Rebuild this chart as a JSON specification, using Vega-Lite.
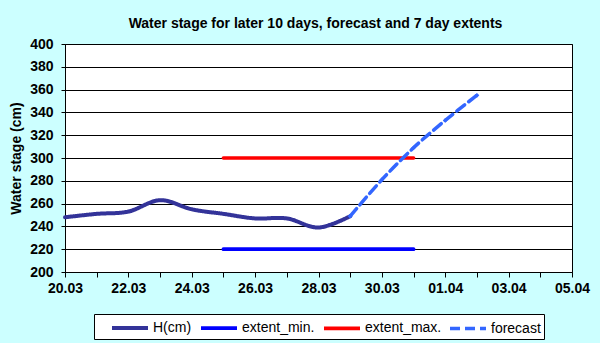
{
  "$schema": "https://vega.github.io/schema/vega-lite/v6.json",
  "autosize": "none",
  "width": 507,
  "height": 228,
  "padding": {"left": 65, "top": 44, "right": 28, "bottom": 71},
  "background": "#ccffff",
  "title": {
    "text": "Water stage for later 10 days, forecast and 7 day extents",
    "font": "Liberation Sans",
    "fontSize": 14,
    "fontWeight": "bold",
    "color": "#000000",
    "offset": 6,
    "dx": -3
  },
  "config": {
    "view": {"stroke": "#000000", "strokeWidth": 1, "fill": "#ffffff"},
    "font": "Liberation Sans"
  },
  "data": {
    "values": [
      {"date": "2011-03-20", "value": 248, "series": "H(cm)"},
      {"date": "2011-03-21", "value": 251, "series": "H(cm)"},
      {"date": "2011-03-22", "value": 253, "series": "H(cm)"},
      {"date": "2011-03-23", "value": 263, "series": "H(cm)"},
      {"date": "2011-03-24", "value": 255, "series": "H(cm)"},
      {"date": "2011-03-25", "value": 251, "series": "H(cm)"},
      {"date": "2011-03-26", "value": 247, "series": "H(cm)"},
      {"date": "2011-03-27", "value": 247, "series": "H(cm)"},
      {"date": "2011-03-28", "value": 239, "series": "H(cm)"},
      {"date": "2011-03-29", "value": 249, "series": "H(cm)"},
      {"date": "2011-03-25", "value": 220, "series": "extent_min."},
      {"date": "2011-03-31", "value": 220, "series": "extent_min."},
      {"date": "2011-03-25", "value": 300, "series": "extent_max."},
      {"date": "2011-03-31", "value": 300, "series": "extent_max."},
      {"date": "2011-03-29", "value": 249, "series": "forecast"},
      {"date": "2011-03-30", "value": 281, "series": "forecast"},
      {"date": "2011-03-31", "value": 309, "series": "forecast"},
      {"date": "2011-04-01", "value": 333, "series": "forecast"},
      {"date": "2011-04-02", "value": 355, "series": "forecast"}
    ]
  },
  "encoding": {
    "x": {
      "field": "date",
      "type": "temporal",
      "scale": {
        "type": "utc",
        "domain": [
          {"year": 2011, "month": 3, "date": 20, "utc": true},
          {"year": 2011, "month": 4, "date": 5, "utc": true}
        ]
      },
      "axis": {
        "title": null,
        "tickCount": {"interval": "day", "step": 1},
        "labelExpr": "round((datum.value - 1300579200000) / 86400000) % 2 == 0 ? utcFormat(datum.value, '%d.%m') : ''",
        "labelFont": "Liberation Sans",
        "labelFontSize": 14,
        "labelFontWeight": "bold",
        "labelColor": "#000000",
        "labelPadding": 4,
        "labelOverlap": false,
        "labelFlush": false,
        "tickSize": 5,
        "tickColor": "#000000",
        "domainColor": "#000000",
        "grid": false
      }
    },
    "y": {
      "field": "value",
      "type": "quantitative",
      "scale": {"domain": [200, 400], "nice": false, "zero": false},
      "axis": {
        "title": "Water stage (cm)",
        "titleFont": "Liberation Sans",
        "titleFontSize": 14,
        "titleFontWeight": "bold",
        "titleColor": "#000000",
        "titlePadding": 6,
        "values": [200, 220, 240, 260, 280, 300, 320, 340, 360, 380, 400],
        "labelFont": "Liberation Sans",
        "labelFontSize": 14,
        "labelFontWeight": "bold",
        "labelColor": "#000000",
        "labelPadding": 8,
        "tickSize": 4,
        "tickColor": "#000000",
        "domainColor": "#000000",
        "grid": true,
        "gridColor": "#000000",
        "gridOpacity": 1,
        "gridWidth": 1
      }
    }
  },
  "layer": [
    {
      "mark": {"type": "line", "interpolate": "cardinal", "strokeCap": "round", "strokeJoin": "round"},
      "encoding": {
        "color": {
          "field": "series",
          "type": "nominal",
          "scale": {
            "domain": ["H(cm)", "extent_min.", "extent_max.", "forecast"],
            "range": ["#333399", "#0000ff", "#ff0000", "#3366ff"]
          },
          "legend": {
            "title": "...",
            "titleOrient": "left",
            "titlePadding": 3,
            "titleFontSize": 14,
            "titleColor": "#ffffff",
            "titleOpacity": 0,
            "orient": "none",
            "direction": "horizontal",
            "legendX": 29,
            "legendY": 270,
            "fillColor": "#ffffff",
            "strokeColor": "#000000",
            "padding": 3,
            "symbolType": "M-2,0H2",
            "symbolSize": 324,
            "symbolOffset": 7,
            "symbolStrokeWidth": 4,
            "labelFont": "Liberation Sans",
            "labelFontSize": 14,
            "labelColor": "#000000",
            "labelOffset": 12,
            "columnPadding": 1
          }
        },
        "strokeDash": {
          "field": "series",
          "type": "nominal",
          "scale": {
            "domain": ["H(cm)", "extent_min.", "extent_max.", "forecast"],
            "range": [[1, 0], [1, 0], [1, 0], [10, 5]]
          },
          "legend": {
            "title": "...",
            "titleOrient": "left",
            "titlePadding": 3,
            "titleFontSize": 14,
            "titleColor": "#ffffff",
            "titleOpacity": 0,
            "orient": "none",
            "direction": "horizontal",
            "legendX": 29,
            "legendY": 270,
            "fillColor": "#ffffff",
            "strokeColor": "#000000",
            "padding": 3,
            "symbolType": "M-2,0H2",
            "symbolSize": 324,
            "symbolOffset": 7,
            "symbolStrokeWidth": 4,
            "labelFont": "Liberation Sans",
            "labelFontSize": 14,
            "labelColor": "#000000",
            "labelOffset": 12,
            "columnPadding": 1
          }
        },
        "strokeWidth": {
          "field": "series",
          "type": "nominal",
          "scale": {
            "domain": ["H(cm)", "extent_min.", "extent_max.", "forecast"],
            "range": [4, 3.5, 3.5, 3]
          },
          "legend": null
        }
      }
    },
    {
      "transform": [{"filter": "datum.series == 'forecast'"}],
      "mark": {"type": "point", "shape": "diamond", "filled": true, "size": 22, "color": "#3366ff", "opacity": 1}
    }
  ]
}
